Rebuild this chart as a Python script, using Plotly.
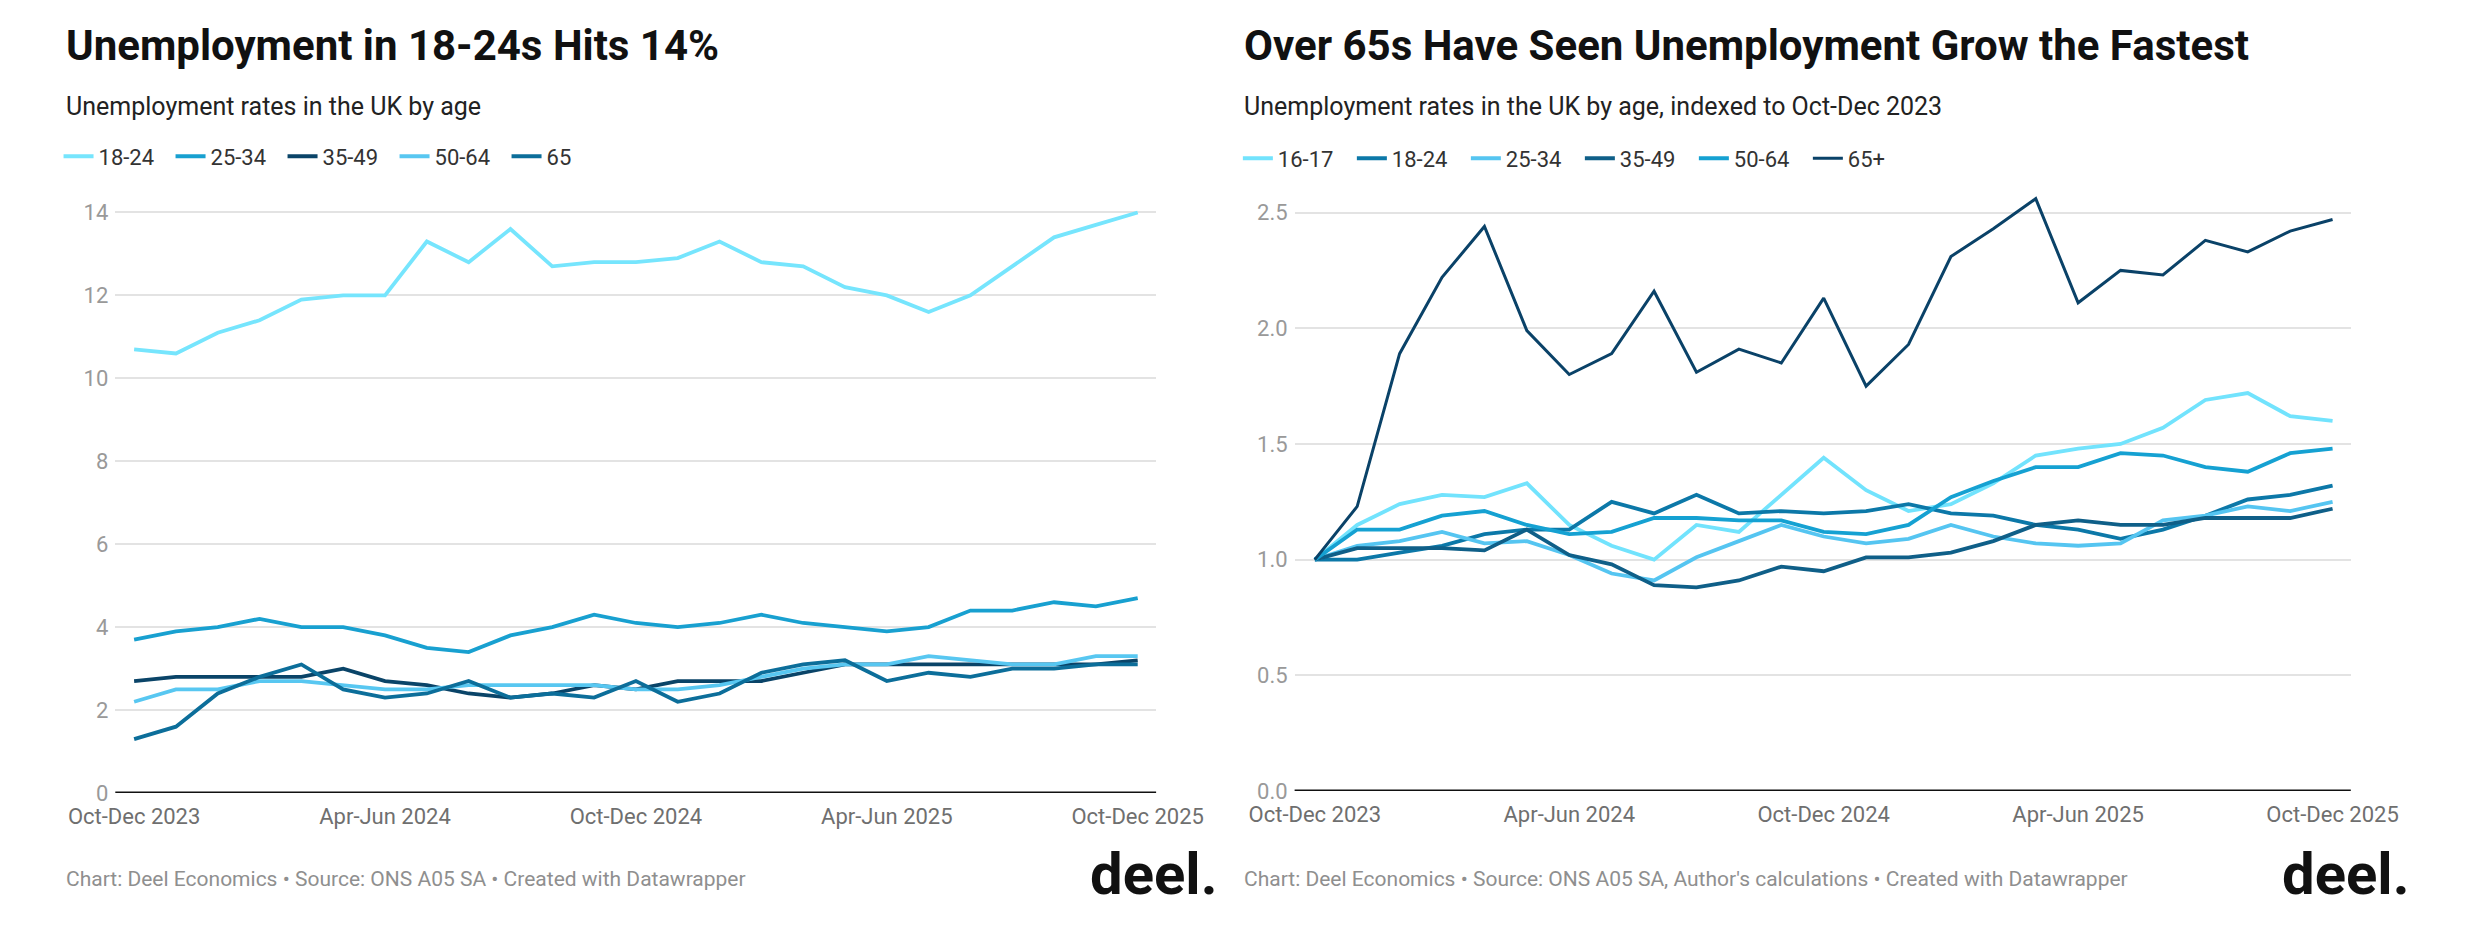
import plotly.graph_objects as go

W, H = 2469, 929

periods = ["Oct-Dec 2023", "Nov-Jan 2024", "Dec-Feb 2024", "Jan-Mar 2024", "Feb-Apr 2024",
           "Mar-May 2024", "Apr-Jun 2024", "May-Jul 2024", "Jun-Aug 2024", "Jul-Sep 2024",
           "Aug-Oct 2024", "Sep-Nov 2024", "Oct-Dec 2024", "Nov-Jan 2025", "Dec-Feb 2025",
           "Jan-Mar 2025", "Feb-Apr 2025", "Mar-May 2025", "Apr-Jun 2025", "May-Jul 2025",
           "Jun-Aug 2025", "Jul-Sep 2025", "Aug-Oct 2025", "Sep-Nov 2025", "Oct-Dec 2025"]
tick_labels = ["Oct-Dec 2023", "Apr-Jun 2024", "Oct-Dec 2024", "Apr-Jun 2025", "Oct-Dec 2025"]

# Left chart: unemployment rates (%)
left_names = ["18-24", "25-34", "35-49", "50-64", "65"]
rate_18_24 = [10.7, 10.6, 11.1, 11.4, 11.9, 12.0, 12.0, 13.3, 12.8, 13.6, 12.7, 12.8, 12.8,
              12.9, 13.3, 12.8, 12.7, 12.2, 12.0, 11.6, 12.0, 12.7, 13.4, 13.7, 14.0]
rate_25_34 = [3.7, 3.9, 4.0, 4.2, 4.0, 4.0, 3.8, 3.5, 3.4, 3.8, 4.0, 4.3, 4.1,
              4.0, 4.1, 4.3, 4.1, 4.0, 3.9, 4.0, 4.4, 4.4, 4.6, 4.5, 4.7]
rate_35_49 = [2.7, 2.8, 2.8, 2.8, 2.8, 3.0, 2.7, 2.6, 2.4, 2.3, 2.4, 2.6, 2.5,
              2.7, 2.7, 2.7, 2.9, 3.1, 3.1, 3.1, 3.1, 3.1, 3.1, 3.1, 3.2]
rate_50_64 = [2.2, 2.5, 2.5, 2.7, 2.7, 2.6, 2.5, 2.5, 2.6, 2.6, 2.6, 2.6, 2.5,
              2.5, 2.6, 2.8, 3.0, 3.1, 3.1, 3.3, 3.2, 3.1, 3.1, 3.3, 3.3]
rate_65 = [1.3, 1.6, 2.4, 2.8, 3.1, 2.5, 2.3, 2.4, 2.7, 2.3, 2.4, 2.3, 2.7,
           2.2, 2.4, 2.9, 3.1, 3.2, 2.7, 2.9, 2.8, 3.0, 3.0, 3.1, 3.1]
left_series = [rate_18_24, rate_25_34, rate_35_49, rate_50_64, rate_65]
left_colors = ["#76e5fd", "#18a0d0", "#0a4468", "#58c7f1", "#0c6e9a"]

# Right chart: indexed to Oct-Dec 2023
right_names = ["16-17", "18-24", "25-34", "35-49", "50-64", "65+"]
idx_16_17 = [1.00, 1.15, 1.24, 1.28, 1.27, 1.33, 1.15, 1.06, 1.00, 1.15, 1.12, 1.28, 1.44,
             1.30, 1.21, 1.24, 1.33, 1.45, 1.48, 1.50, 1.57, 1.69, 1.72, 1.62, 1.60]
idx_18_24 = [1.00, 1.00, 1.03, 1.06, 1.11, 1.13, 1.13, 1.25, 1.20, 1.28, 1.20, 1.21, 1.20,
             1.21, 1.24, 1.20, 1.19, 1.15, 1.13, 1.09, 1.13, 1.19, 1.26, 1.28, 1.32]
idx_25_34 = [1.00, 1.06, 1.08, 1.12, 1.07, 1.08, 1.02, 0.94, 0.91, 1.01, 1.08, 1.15, 1.10,
             1.07, 1.09, 1.15, 1.10, 1.07, 1.06, 1.07, 1.17, 1.19, 1.23, 1.21, 1.25]
idx_35_49 = [1.00, 1.05, 1.05, 1.05, 1.04, 1.13, 1.02, 0.98, 0.89, 0.88, 0.91, 0.97, 0.95,
             1.01, 1.01, 1.03, 1.08, 1.15, 1.17, 1.15, 1.15, 1.18, 1.18, 1.18, 1.22]
idx_50_64 = [1.00, 1.13, 1.13, 1.19, 1.21, 1.15, 1.11, 1.12, 1.18, 1.18, 1.17, 1.17, 1.12,
             1.11, 1.15, 1.27, 1.34, 1.40, 1.40, 1.46, 1.45, 1.40, 1.38, 1.46, 1.48]
idx_65 = [1.00, 1.23, 1.89, 2.22, 2.44, 1.99, 1.80, 1.89, 2.16, 1.81, 1.91, 1.85, 2.13,
          1.75, 1.93, 2.31, 2.43, 2.56, 2.11, 2.25, 2.23, 2.38, 2.33, 2.42, 2.47]
right_series = [idx_16_17, idx_18_24, idx_25_34, idx_35_49, idx_50_64, idx_65]
right_colors = ["#72e3fd", "#0c78a8", "#55c5f1", "#0f5f88", "#15a1d2", "#0a4268"]
right_widths = [3.8, 3.8, 3.8, 3.8, 3.8, 3.0]

FONT = "Roboto"


def px(x):
    return x / W


def py(y):
    return 1 - y / H


fig = go.Figure()
for name, vals, col in zip(left_names, left_series, left_colors):
    fig.add_trace(go.Scatter(x=periods, y=vals, name=name, mode="lines",
                             line=dict(color=col, width=3.8), xaxis="x", yaxis="y",
                             legend="legend", hoverinfo="skip"))
for name, vals, col, w in zip(right_names, right_series, right_colors, right_widths):
    fig.add_trace(go.Scatter(x=periods, y=vals, name=name, mode="lines",
                             line=dict(color=col, width=w), xaxis="x2", yaxis="y2",
                             legend="legend2", hoverinfo="skip"))

# geometry (pixels)
L0, L1 = 71, 1153
R0, R1 = 1297, 2395
y0_left, unit_left = 804, 42.15
y0_right, unit_right = 802, 235.2
ltop = 14.25
rtop = 2.62

xfont = dict(family=FONT, size=22, color="#6f6f6f")
yfont = dict(family=FONT, size=22, color="#999999")

fig.update_layout(
    width=W, height=H,
    margin=dict(l=0, r=0, t=0, b=0),
    paper_bgcolor="white", plot_bgcolor="white",
    showlegend=True,
    xaxis=dict(domain=[px(L0), px(L1)], type="category", range=[-0.45, 24.44],
               tickmode="array", tickvals=tick_labels, ticktext=tick_labels,
               showgrid=False, anchor="y", ticklabelstandoff=8, showline=False,
               ticks="", zeroline=False, tickfont=xfont),
    yaxis=dict(domain=[py(y0_left), py(y0_left - ltop * unit_left)], range=[0, ltop],
               tickvals=[0, 2, 4, 6, 8, 10, 12, 14], showgrid=True, gridcolor="#e3e3e3",
               gridwidth=2, anchor="x", ticklabelstandoff=6, showline=False,
               ticks="", zeroline=False, tickfont=yfont),
    xaxis2=dict(domain=[px(R0), px(R1)], type="category", range=[-0.476, 24.43],
                tickmode="array", tickvals=tick_labels, ticktext=tick_labels,
                showgrid=False, anchor="y2", ticklabelstandoff=8, showline=False,
                ticks="", zeroline=False, tickfont=xfont),
    yaxis2=dict(domain=[py(y0_right), py(y0_right - rtop * unit_right)], range=[0, rtop],
                tickvals=[0, 0.5, 1.0, 1.5, 2.0, 2.5], ticktext=["0.0", "0.5", "1.0", "1.5", "2.0", "2.5"],
                showgrid=True, gridcolor="#e3e3e3", gridwidth=2, anchor="x2",
                ticklabelstandoff=6, showline=False, ticks="", zeroline=False, tickfont=yfont),
    legend=dict(orientation="h", x=px(12), y=py(157), xanchor="left", yanchor="middle",
                font=dict(family=FONT, size=22, color="#333333"), entrywidth=67,
                entrywidthmode="pixels", bgcolor="rgba(0,0,0,0)", traceorder="normal"),
    legend2=dict(orientation="h", x=px(1238), y=py(159), xanchor="left", yanchor="middle",
                 font=dict(family=FONT, size=22, color="#333333"), entrywidth=69,
                 entrywidthmode="pixels", bgcolor="rgba(0,0,0,0)", traceorder="normal"),
)

# black baselines at zero
for xr, yr in [("x domain", "y"), ("x2 domain", "y2")]:
    fig.add_shape(type="line", xref=xr, yref=yr, x0=0, x1=1, y0=0, y1=0,
                  line=dict(color="#111111", width=3))

ann = []


def text(x, y, s, size, color, bold=False, xanchor="left"):
    ann.append(dict(xref="paper", yref="paper", x=px(x), y=py(y), text=(f"<b>{s}</b>" if bold else s),
                    showarrow=False, xanchor=xanchor, yanchor="middle",
                    font=dict(family=FONT, size=size, color=color)))


text(18, 44, "Unemployment in 18-24s Hits 14%", 42, "#111111", bold=True)
text(18, 106, "Unemployment rates in the UK by age", 25, "#222222")
text(1242, 44, "Over 65s Have Seen Unemployment Grow the Fastest", 42, "#111111", bold=True)
text(1242, 106, "Unemployment rates in the UK by age, indexed to Oct-Dec 2023", 25, "#222222")
text(18, 891, "Chart: Deel Economics • Source: ONS A05 SA • Created with Datawrapper", 21, "#8f8f8f")
text(1242, 891, "Chart: Deel Economics • Source: ONS A05 SA, Author's calculations • Created with Datawrapper", 21, "#8f8f8f")
text(1218, 886, "deel.", 58, "#111111", bold=True, xanchor="right")
text(2458, 886, "deel.", 58, "#111111", bold=True, xanchor="right")
fig.update_layout(annotations=ann)

fig.write_html("out.html", config={"displayModeBar": False},
               post_script="document.body.style.margin='0';")
